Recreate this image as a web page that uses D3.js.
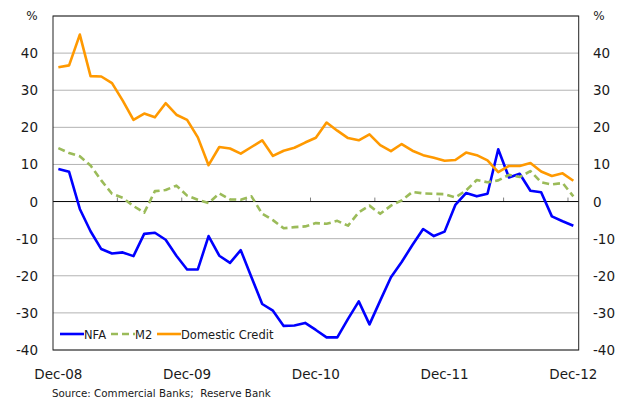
<!DOCTYPE html>
<html>
<head>
<meta charset="utf-8">
<script src="https://cdn.jsdelivr.net/npm/d3@7"></script>
<style>
  body { margin: 0; background: #fff; }
  text { font-family: "DejaVu Sans", sans-serif; fill: #1a1a1a; }
</style>
</head>
<body>
<div id="chart"></div>
<script>
// monthly, Dec-08 .. Dec-12, annual % change
var months = ["Dec-08","Jan-09","Feb-09","Mar-09","Apr-09","May-09","Jun-09","Jul-09","Aug-09","Sep-09","Oct-09","Nov-09",
  "Dec-09","Jan-10","Feb-10","Mar-10","Apr-10","May-10","Jun-10","Jul-10","Aug-10","Sep-10","Oct-10","Nov-10",
  "Dec-10","Jan-11","Feb-11","Mar-11","Apr-11","May-11","Jun-11","Jul-11","Aug-11","Sep-11","Oct-11","Nov-11",
  "Dec-11","Jan-12","Feb-12","Mar-12","Apr-12","May-12","Jun-12","Jul-12","Aug-12","Sep-12","Oct-12","Nov-12","Dec-12"];

var nfa = [8.8, 8.0, -2.0, -8.0, -12.8, -14.0, -13.7, -14.7, -8.7, -8.4, -10.3, -14.6,
  -18.3, -18.3, -9.3, -14.6, -16.5, -13.1, -20.4, -27.6, -29.4, -33.5, -33.4, -32.7,
  -34.6, -36.6, -36.6, -31.6, -26.9, -33.1, -26.7, -20.4, -16.3, -11.7, -7.4, -9.3,
  -8.1, -0.9, 2.3, 1.4, 2.1, 14.1, 6.5, 7.5, 2.9, 2.5, -4.0, -5.3, -6.5];

var m2 = [14.4, 13.1, 12.2, 9.7, 5.7, 2.1, 1.0, -1.2, -3.0, 2.8, 3.1, 4.3,
  1.6, 0.5, -0.4, 2.2, 0.6, 0.5, 1.4, -3.3, -5.0, -7.2, -6.9, -6.7,
  -5.8, -6.0, -5.2, -6.5, -2.9, -1.1, -3.3, -1.1, 0.3, 2.6, 2.2, 2.1,
  2.0, 1.1, 3.0, 5.8, 5.2, 5.7, 7.2, 6.6, 8.2, 5.2, 4.6, 5.0, 1.4];

var credit = [36.2, 36.7, 45.0, 33.8, 33.7, 31.9, 27.2, 22.0, 23.7, 22.7, 26.5, 23.4,
  22.0, 17.3, 9.8, 14.7, 14.3, 12.9, 14.7, 16.5, 12.3, 13.7, 14.5, 15.9,
  17.2, 21.3, 19.1, 17.1, 16.5, 18.1, 15.2, 13.6, 15.5, 13.7, 12.5, 11.8,
  11.0, 11.2, 13.2, 12.5, 11.1, 7.9, 9.6, 9.6, 10.4, 8.1, 6.9, 7.6, 5.6];

var yTicks = [-40, -30, -20, -10, 0, 10, 20, 30, 40];
var xLabels = ["Dec-08", "Dec-09", "Dec-10", "Dec-11", "Dec-12"];

var series = [
  {name: "NFA", values: nfa, color: "#0000ff", dash: null},
  {name: "M2", values: m2, color: "#9bbb59", dash: "7,4"},
  {name: "Domestic Credit", values: credit, color: "#ff9900", dash: null}
];

var W = 617, H = 400;
var pLeft = 53, pRight = 578.7, pTop = 16, pBottom = 350;

var svg = d3.select("#chart").append("svg")
    .attr("width", W)
    .attr("height", H);

var x = d3.scaleBand()
    .domain(months)
    .range([pLeft, pRight])
    .paddingInner(0)
    .paddingOuter(0);

var y = d3.scaleLinear()
    .domain([-40, 50])
    .range([pBottom, pTop]);

function cx(m) { return x(m) + x.bandwidth() / 2; }

// gridlines
svg.append("g").selectAll("line")
  .data(yTicks.filter(function(d) { return d != 0; }).concat([50]))
  .enter().append("line")
    .attr("x1", pLeft).attr("x2", pRight)
    .attr("y1", function(d) { return y(d); })
    .attr("y2", function(d) { return y(d); })
    .attr("stroke", "#b3b3b3")
    .attr("stroke-width", 1);

// x axis on the zero line, ticks every 6 months at category edges
var tickMonths = months.filter(function(d, i) { return i > 0 && i % 6 == 0; });
svg.append("g").selectAll("line")
  .data(tickMonths)
  .enter().append("line")
    .attr("x1", function(d) { return x(d); })
    .attr("x2", function(d) { return x(d); })
    .attr("y1", y(0) - 4)
    .attr("y2", y(0))
    .attr("stroke", "#808080")
    .attr("stroke-width", 1);

svg.append("line")
    .attr("x1", pLeft).attr("x2", pRight)
    .attr("y1", y(0)).attr("y2", y(0))
    .attr("stroke", "#000")
    .attr("stroke-width", 1);

// plot border
svg.append("rect")
    .attr("x", pLeft).attr("y", pTop)
    .attr("width", pRight - pLeft).attr("height", pBottom - pTop)
    .attr("fill", "none")
    .attr("stroke", "#222")
    .attr("stroke-width", 1);

// y labels both sides
svg.append("g").selectAll("text")
  .data(yTicks)
  .enter().append("text")
    .attr("x", 38)
    .attr("y", function(d) { return y(d) + 5; })
    .attr("text-anchor", "end")
    .style("font-size", "13.5px")
    .text(function(d) { return d; });

svg.append("g").selectAll("text")
  .data(yTicks)
  .enter().append("text")
    .attr("x", 593)
    .attr("y", function(d) { return y(d) + 5; })
    .attr("text-anchor", "start")
    .style("font-size", "13.5px")
    .text(function(d) { return d; });

svg.append("text").attr("x", 32).attr("y", 20).attr("text-anchor", "middle")
    .style("font-size", "12px").text("%");
svg.append("text").attr("x", 599).attr("y", 20).attr("text-anchor", "middle")
    .style("font-size", "12px").text("%");

// x labels
svg.append("g").selectAll("text")
  .data(xLabels)
  .enter().append("text")
    .attr("x", function(d) { return cx(d); })
    .attr("y", 379)
    .attr("text-anchor", "middle")
    .style("font-size", "13.5px")
    .text(function(d) { return d; });

// lines
var line = d3.line()
    .x(function(d, i) { return cx(months[i]); })
    .y(function(d) { return y(d); });

svg.append("g").selectAll("path")
  .data(series)
  .enter().append("path")
    .attr("d", function(d) { return line(d.values); })
    .attr("fill", "none")
    .attr("stroke", function(d) { return d.color; })
    .attr("stroke-width", 2.6)
    .attr("stroke-linejoin", "round")
    .attr("stroke-dasharray", function(d) { return d.dash; });

// legend
var legendPos = [60, 111, 157];
var lg = svg.append("g").selectAll("g")
  .data(series)
  .enter().append("g")
    .attr("transform", function(d, i) { return "translate(" + legendPos[i] + ",334)"; });
lg.append("line")
    .attr("x1", 0).attr("x2", 24)
    .attr("stroke", function(d) { return d.color; })
    .attr("stroke-width", 2.6)
    .attr("stroke-dasharray", function(d) { return d.dash; });
lg.append("text")
    .attr("x", 24)
    .attr("y", 4.5)
    .style("font-size", "11.5px")
    .text(function(d) { return d.name; });

// source
svg.append("text")
    .attr("x", 52)
    .attr("y", 397)
    .style("font-size", "10.3px")
    .style("white-space", "pre")
    .text("Source: Commercial Banks;  Reserve Bank");
</script>
</body>
</html>
